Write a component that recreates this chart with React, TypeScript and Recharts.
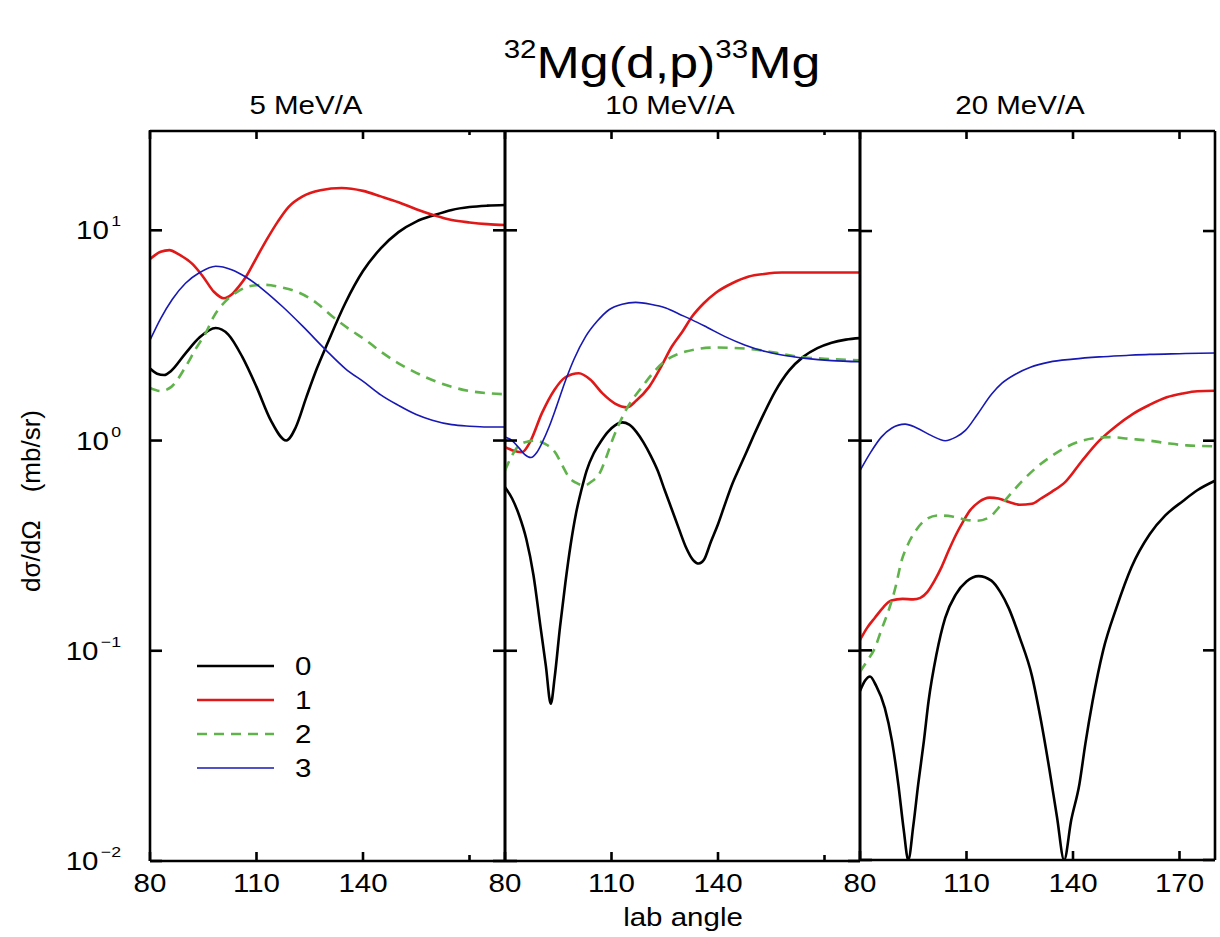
import React from "react";
import { LineChart, Line, XAxis, YAxis } from "recharts";

const FONT = '"Liberation Sans", Arial, Helvetica, sans-serif';
const SX = 1.18; // reference text is a little wide

const PLOT_TOP = 132;
const PLOT_BOTTOM = 859;
const PANEL_W = 353;
const PANEL_LEFT = [151, 506, 861];

const Y_DOMAIN = [0.01, 30];
const Y_TICKS = [0.01, 0.1, 1, 10];
const Y_EXP = ["\u22122", "\u22121", "0", "1"];
const X_TICKS = [80, 110, 140, 170];
const X_LABELS = [
  [80, 110, 140],
  [80, 110, 140],
  [80, 110, 140, 170],
];
const ENERGIES = ["5 MeV/A", "10 MeV/A", "20 MeV/A"];
const ENERGY_X = [306, 670, 1020];

const SERIES_NAMES = ["0", "1", "2", "3"];
const SERIES_COLORS = ["#000000", "#e01818", "#5fb34a", "#1818b4"];
const SERIES_WIDTHS = [2.6, 2.6, 2.6, 1.6];
const SERIES_DASH = [undefined, undefined, "10 7", undefined];

// 5 MeV/A  [lab angle, dσ/dΩ]
const p5_l0 = [[80, 2.2], [82, 2.08], [84, 2.05], [86, 2.15], [90, 2.6], [94, 3.1], [98.5, 3.43], [102, 3.2], [106, 2.5], [110, 1.8], [114, 1.25], [118.4, 1.0], [121, 1.15], [124, 1.6], [127, 2.2], [130, 2.9], [135, 4.5], [140, 6.4], [145, 8.2], [150, 9.8], [155, 11], [160, 11.8], [165, 12.5], [170, 12.9], [175, 13.1], [180, 13.2]];
const p5_l1 = [[80, 7.3], [83, 7.9], [85.5, 8.05], [88, 7.7], [92, 6.9], [95, 6.0], [98, 5.1], [100.8, 4.75], [103, 4.95], [105, 5.4], [107, 6.0], [110, 7.4], [113, 9.1], [116, 11], [119, 12.9], [123, 14.5], [128, 15.5], [134, 15.9], [140, 15.4], [145, 14.5], [150, 13.6], [155, 12.6], [160, 11.8], [165, 11.2], [170, 10.9], [175, 10.7], [180, 10.6]];
const p5_l2 = [[80, 1.78], [83, 1.72], [86, 1.8], [90, 2.24], [93, 2.75], [95.7, 3.25], [98, 3.9], [101.3, 4.6], [105, 5.15], [108.7, 5.45], [112.6, 5.5], [117, 5.35], [122, 5.05], [127, 4.5], [131.3, 3.9], [136, 3.4], [140.8, 3.0], [145, 2.65], [150, 2.33], [155, 2.1], [159.5, 1.94], [165, 1.8], [170, 1.72], [175, 1.68], [180, 1.66]];
const p5_l3 = [[80, 3.0], [83, 3.8], [86.3, 4.7], [90, 5.6], [94, 6.3], [98.5, 6.75], [103, 6.5], [107, 6.0], [112, 5.2], [117.3, 4.34], [123, 3.5], [129.5, 2.7], [135, 2.2], [140.8, 1.87], [145, 1.65], [150, 1.47], [155, 1.33], [159.5, 1.25], [165, 1.19], [170, 1.17], [175, 1.16], [180, 1.16]];

// 10 MeV/A
const p10_l0 = [[80, 0.6], [82, 0.53], [84, 0.44], [86, 0.34], [88, 0.23], [90, 0.13], [91.5, 0.085], [92.9, 0.056], [94, 0.075], [95.5, 0.13], [97, 0.21], [98.5, 0.32], [100, 0.45], [101.5, 0.58], [103, 0.72], [105, 0.87], [107, 0.99], [109, 1.1], [111, 1.18], [113, 1.22], [115, 1.19], [117, 1.1], [119, 0.98], [121, 0.85], [123, 0.72], [125, 0.58], [127, 0.47], [129, 0.38], [131, 0.31], [133, 0.27], [134.6, 0.26], [136, 0.27], [138, 0.33], [140, 0.4], [142, 0.5], [144, 0.62], [146, 0.74], [148, 0.88], [150, 1.05], [153, 1.35], [156, 1.7], [160, 2.15], [164, 2.5], [168, 2.75], [172, 2.92], [176, 3.02], [180, 3.07]];
const p10_l1 = [[80, 0.93], [82, 0.9], [84.8, 0.88], [87, 0.98], [90.4, 1.35], [94, 1.75], [97, 2.0], [100.8, 2.09], [104, 1.95], [107.4, 1.68], [111, 1.5], [114.4, 1.44], [117, 1.55], [120.6, 1.8], [124, 2.25], [127, 2.8], [130, 3.3], [132.7, 3.89], [136, 4.5], [139.4, 5.05], [144, 5.6], [148.7, 6.03], [153, 6.2], [158, 6.3], [165, 6.3], [172, 6.3], [180, 6.3]];
const p10_l2 = [[80, 0.72], [82, 0.85], [84, 0.95], [86.5, 0.99], [88.6, 1.0], [91, 0.97], [94.3, 0.87], [96, 0.77], [98, 0.67], [100, 0.63], [102.3, 0.61], [104.5, 0.64], [106.5, 0.69], [108.5, 0.83], [110.2, 1.0], [114, 1.39], [118.6, 1.8], [124.3, 2.33], [130.9, 2.65], [139.4, 2.77], [149.6, 2.72], [156, 2.62], [162.8, 2.5], [170, 2.45], [180, 2.41]];
const p10_l3 = [[80, 1.04], [82, 1.0], [84, 0.92], [85.5, 0.86], [87.3, 0.83], [89, 0.88], [90.5, 0.98], [92.4, 1.16], [94.5, 1.45], [97.1, 1.94], [99.5, 2.45], [102.7, 3.12], [106, 3.7], [109.3, 4.19], [113, 4.45], [116.8, 4.54], [121, 4.45], [125.3, 4.27], [129, 4.0], [132.7, 3.75], [137, 3.45], [142, 3.12], [147.5, 2.85], [153.4, 2.65], [158, 2.55], [164.7, 2.46], [172, 2.4], [180, 2.37]];

// 20 MeV/A
const p20_l0 = [[80, 0.064], [81.5, 0.072], [82.8, 0.075], [84.5, 0.068], [87, 0.053], [89, 0.037], [90.8, 0.0229], [92.3, 0.014], [93.6, 0.01], [95, 0.0145], [96.4, 0.023], [98, 0.037], [99.3, 0.057], [101.5, 0.095], [104, 0.143], [107, 0.185], [110, 0.213], [113.4, 0.226], [117, 0.215], [119.5, 0.19], [121.9, 0.159], [125, 0.115], [128.4, 0.076], [131, 0.046], [133.3, 0.0274], [135.5, 0.016], [137.5, 0.01], [139.5, 0.0155], [141.8, 0.023], [143.5, 0.036], [145.5, 0.057], [148.5, 0.1], [152.2, 0.159], [156.5, 0.25], [161.6, 0.358], [166, 0.44], [171, 0.516], [175, 0.58], [180, 0.644]];
const p20_l1 = [[80, 0.112], [82, 0.128], [84.2, 0.143], [86.5, 0.16], [88.8, 0.173], [92, 0.176], [95, 0.175], [97, 0.178], [99, 0.19], [101, 0.215], [103, 0.25], [105, 0.3], [107, 0.355], [109, 0.41], [111, 0.465], [113.5, 0.51], [116.5, 0.535], [119, 0.53], [122, 0.51], [125, 0.495], [128.4, 0.5], [131, 0.53], [134, 0.57], [138, 0.64], [142.5, 0.8], [147.4, 1.0], [152, 1.17], [156.8, 1.34], [161.5, 1.48], [166.4, 1.61], [171, 1.68], [175, 1.72], [180, 1.73]];
const p20_l2 = [[80, 0.079], [82, 0.089], [84.2, 0.1026], [86, 0.125], [88, 0.154], [90, 0.2], [91.7, 0.267], [93.5, 0.32], [95.6, 0.37], [98.5, 0.42], [102, 0.44], [106, 0.435], [109.7, 0.42], [113, 0.415], [116.3, 0.43], [120, 0.5], [125.6, 0.64], [129.5, 0.74], [133.3, 0.83], [138, 0.93], [142.6, 1.0], [146.5, 1.03], [150.3, 1.04], [156, 1.02], [161.6, 1.0], [167, 0.97], [172, 0.95], [180, 0.94]];
const p20_l3 = [[80, 0.72], [83, 0.88], [86, 1.04], [89, 1.15], [92.7, 1.2], [96, 1.15], [100, 1.06], [104, 1.0], [107, 1.04], [109.7, 1.12], [113, 1.33], [117.1, 1.67], [120, 1.88], [123.9, 2.08], [128, 2.24], [133.3, 2.37], [140, 2.45], [147.4, 2.51], [155, 2.55], [161.6, 2.58], [170, 2.6], [180, 2.62]];

const PANELS = [
  [p5_l0, p5_l1, p5_l2, p5_l3],
  [p10_l0, p10_l1, p10_l2, p10_l3],
  [p20_l0, p20_l1, p20_l2, p20_l3],
];

const toRows = (pts: number[][]) => pts.map(([a, v]) => ({ a, v }));

const AXIS_LINE = { stroke: "#000", strokeWidth: 2.6 };
const TICK_LINE = { stroke: "#000", strokeWidth: 2.6 };
// tick={false} also drops the tick marks, so unlabeled axes get an empty label
const noLabel = () => <g />;

function SText({ x, y, size, anchor = "middle", children }: any) {
  return (
    <text
      transform={`translate(${x},${y}) scale(${SX},1)`}
      textAnchor={anchor}
      fontSize={size}
      fontFamily={FONT}
      fill="#000"
    >
      {children}
    </text>
  );
}

function Panel({ idx }: { idx: number }) {
  const ML = idx === 0 ? 151 : 40;
  const MR = 40;
  const labels = X_LABELS[idx];
  const hasMinor = idx < 2; // panels 1 and 2 only show a dot for 170
  const xTicks = hasMinor ? [80, 110, 140] : X_TICKS;
  const stack = hasMinor ? 2 : 1; // 1px axes stacked on top and bottom

  const bottomLabel = ({ x, payload }: any) =>
    labels.includes(payload.value) ? (
      <SText x={x} y={PLOT_BOTTOM + 33} size={25}>
        {String(payload.value)}
      </SText>
    ) : (
      <g />
    );
  const leftLabel = ({ y, index }: any) => (
    <text
      transform={`translate(${ML - 30},${y + 9}) scale(${SX},1)`}
      textAnchor="end"
      fontFamily={FONT}
      fill="#000"
    >
      <tspan fontSize={25}>10</tspan>
      <tspan fontSize={15} dx={2} dy={-13}>
        {Y_EXP[index]}
      </tspan>
    </text>
  );

  // every axis is 1px wide and mirrored so its tick marks point into the frame
  return (
    <div style={{ position: "absolute", left: PANEL_LEFT[idx] - ML, top: 0 }}>
      <LineChart
        width={ML + PANEL_W + MR}
        height={937}
        margin={{
          top: PLOT_TOP - stack,
          right: MR - 1,
          bottom: 937 - PLOT_BOTTOM - stack,
          left: ML - 1,
        }}
      >
        <XAxis
          xAxisId="b"
          dataKey="a"
          type="number"
          domain={[80, 180]}
          ticks={xTicks}
          interval={0}
          height={1}
          mirror
          allowDataOverflow
          axisLine={AXIS_LINE}
          tickLine={TICK_LINE}
          tickSize={9}
          tick={bottomLabel}
        />
        <XAxis
          xAxisId="t"
          orientation="top"
          dataKey="a"
          type="number"
          domain={[80, 180]}
          ticks={xTicks}
          interval={0}
          height={1}
          mirror
          allowDataOverflow
          axisLine={AXIS_LINE}
          tickLine={TICK_LINE}
          tickSize={8}
          tick={noLabel}
        />
        {hasMinor && (
          <XAxis
            xAxisId="minor"
            dataKey="a"
            type="number"
            domain={[80, 180]}
            ticks={[170]}
            interval={0}
            height={1}
            mirror
            allowDataOverflow
            axisLine={false}
            tickLine={TICK_LINE}
            tickSize={5}
            tick={noLabel}
          />
        )}
        {hasMinor && (
          <XAxis
            xAxisId="minorTop"
            orientation="top"
            dataKey="a"
            type="number"
            domain={[80, 180]}
            ticks={[170]}
            interval={0}
            height={1}
            mirror
            allowDataOverflow
            axisLine={false}
            tickLine={TICK_LINE}
            tickSize={5}
            tick={noLabel}
          />
        )}
        <YAxis
          yAxisId="l"
          scale="log"
          type="number"
          domain={Y_DOMAIN}
          ticks={Y_TICKS}
          interval={0}
          width={1}
          mirror
          allowDataOverflow
          axisLine={AXIS_LINE}
          tickLine={TICK_LINE}
          tickSize={12}
          tick={idx === 0 ? leftLabel : noLabel}
        />
        <YAxis
          yAxisId="r"
          orientation="right"
          scale="log"
          type="number"
          domain={Y_DOMAIN}
          ticks={Y_TICKS}
          interval={0}
          width={1}
          mirror
          allowDataOverflow
          axisLine={AXIS_LINE}
          tickLine={TICK_LINE}
          tickSize={12}
          tick={noLabel}
        />
        {PANELS[idx].map((pts, i) => (
          <Line
            key={SERIES_NAMES[i]}
            data={toRows(pts)}
            dataKey="v"
            name={SERIES_NAMES[i]}
            xAxisId="b"
            yAxisId="l"
            type="monotone"
            stroke={SERIES_COLORS[i]}
            strokeWidth={SERIES_WIDTHS[i]}
            strokeDasharray={SERIES_DASH[i]}
            dot={false}
            activeDot={false}
            isAnimationActive={false}
          />
        ))}
      </LineChart>
    </div>
  );
}

function Overlay() {
  const legendY = [666, 700, 734, 768];
  return (
    <svg
      width={1220}
      height={937}
      style={{ position: "absolute", left: 0, top: 0, pointerEvents: "none" }}
    >
      <text
        transform={`translate(662,78) scale(${SX},1)`}
        textAnchor="middle"
        fontFamily={FONT}
        fill="#000"
      >
        <tspan fontSize={25} dy={-20}>32</tspan>
        <tspan fontSize={44} dy={20}>Mg(d,p)</tspan>
        <tspan fontSize={25} dy={-20}>33</tspan>
        <tspan fontSize={44} dy={20}>Mg</tspan>
      </text>
      {ENERGIES.map((e, i) => (
        <SText key={e} x={ENERGY_X[i]} y={114} size={25}>
          {e}
        </SText>
      ))}
      <SText x={683} y={926} size={25}>
        lab angle
      </SText>
      <text
        transform="translate(40,501) rotate(-90)"
        textAnchor="middle"
        fontSize={26}
        fontFamily={FONT}
        fill="#000"
      >
        <tspan>dσ/dΩ</tspan>
        <tspan dx={28}>(mb/sr)</tspan>
      </text>
      {SERIES_NAMES.map((n, i) => (
        <g key={n}>
          <line
            x1={197}
            x2={274}
            y1={legendY[i]}
            y2={legendY[i]}
            stroke={SERIES_COLORS[i]}
            strokeWidth={SERIES_WIDTHS[i]}
            strokeDasharray={SERIES_DASH[i]}
          />
          <SText x={295} y={legendY[i] + 9} size={25} anchor="start">
            {n}
          </SText>
        </g>
      ))}
    </svg>
  );
}

export default function App() {
  return (
    <div
      style={{
        position: "absolute",
        left: 0,
        top: 0,
        width: 1220,
        height: 937,
        background: "#fff",
        overflow: "hidden",
      }}
    >
      {[0, 1, 2].map((i) => (
        <Panel key={i} idx={i} />
      ))}
      <Overlay />
    </div>
  );
}
